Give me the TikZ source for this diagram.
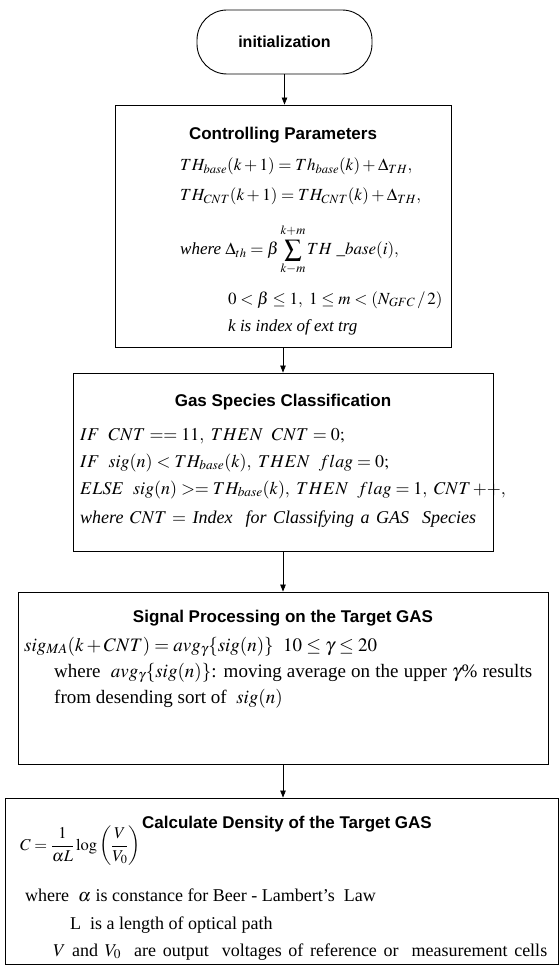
\documentclass[tikz,border=0pt]{standalone}
\usepackage{mathptmx}
\usepackage[no-math]{fontspec}
\setmainfont{Liberation Serif}
\newfontfamily\titlefont{Liberation Sans}
\usetikzlibrary{arrows.meta}
\begin{document}
\begin{tikzpicture}[x=1pt,y=-1pt,
  box/.style={draw, line width=0.9pt, inner sep=0pt},
  arr/.style={draw, line width=0.7pt, -{Triangle[length=7pt,width=5.5pt]}},
  ttl/.style={anchor=base, inner sep=0pt, font=\titlefont\bfseries\fontsize{17}{20}\selectfont},
  txt/.style={anchor=base west, inner sep=0pt, font=\fontsize{18}{22}\selectfont},
  ctxt/.style={txt, font=\fontsize{17}{21}\selectfont},
  stxt/.style={txt, font=\fontsize{19}{23}\selectfont},
]
\useasboundingbox (0,0) rectangle (559,973);

% boxes
\node[box, rounded corners=30pt, minimum width=175pt, minimum height=64pt] (init) at (284.5,42) {};
\node[ttl, anchor=center, font=\titlefont\bfseries\fontsize{16}{19}\selectfont] (initT) at (284.5,42) {initialization};

\node[box, minimum width=336pt, minimum height=242pt] (ctrl) at (283,226) {};
\node[box, minimum width=420pt, minimum height=178pt] (gas) at (283,462) {};
\node[box, minimum width=530pt, minimum height=172pt] (sig) at (283,678) {};
\node[box, minimum width=553pt, minimum height=166pt] (calc) at (281.5,881) {};

% connectors
\draw[arr] (init.south) -- (init.south |- ctrl.north);
\draw[arr] (ctrl.south) -- (gas.north);
\draw[arr] (gas.south) -- (sig.north);
\draw[arr] (sig.south) -- (sig.south |- calc.north);

% Controlling Parameters
\node[ttl] (cT) at (283,140) {Controlling Parameters};
\node[ctxt] (c1) at (180,171) {$TH_{base}(k+1) = Th_{base}(k) + \Delta_{TH},$};
\node[ctxt] (c2) at (180,201) {$TH_{CNT}(k+1) = TH_{CNT}(k) + \Delta_{TH},$};
\node[ctxt] (c3) at (180,255) {\textit{where} $\displaystyle \Delta_{th} = \beta\mathop{\vphantom{\sum}\smash{\sum}}_{k-m}^{\raisebox{2pt}{$\scriptstyle k+m$}} TH\ \_base(i),$};
\node[ctxt] (c4) at (228,304) {$0 < \beta \le 1,\ 1 \le m < (N_{GFC}\,/\,2)$};
\node[ctxt] (c5) at (228,331) {\textit{k is index of ext trg}};

% Gas Species Classification
\node[ttl] (gT) at (283,406) {Gas Species Classification};
\node[txt] (g1) at (80,440) {$IF\ \ CNT == 11,\ THEN\ \ CNT = 0;$};
\node[txt] (g2) at (80,467) {$IF\ \ sig(n) < TH_{base}(k),\ THEN\ \ flag = 0;$};
\node[txt] (g3) at (80,494) {$ELSE\ \ sig(n) >= TH_{base}(k),\ THEN\ \ flag = 1,\ CNT\,{+}{+},$};
\node[txt] (g4) at (80,523) {\hbox to 396pt{\textit{where} $CNT =$ \textit{Index\ \ for Classifying\ a GAS\ \ Species}}};

% Signal Processing
\node[ttl] (sT) at (283,622) {Signal Processing on the Target GAS};
\node[stxt] (s1) at (24,651) {$sig_{MA}(k + CNT) = avg_{\gamma}\{sig(n)\}\ \ 10 \le \gamma \le 20$};
\node[stxt] (s2) at (54,677) {\hbox to 478pt{where\ \ $avg_{\gamma}\{sig(n)\}$: moving average on the upper $\gamma$\% results}};
\node[stxt] (s3) at (54,703) {from desending sort of\ \ $sig(n)$};

% Calculate Density
\node[ttl] (dT) at (287,828) {Calculate Density of the Target GAS};
\node[txt, anchor=west, font=\fontsize{16.5}{20}\selectfont] (d1) at (20,846) {$\displaystyle C = \frac{1}{\alpha L}\log\left(\frac{V}{V_0}\right)$};
\node[txt] (d2) at (25,901) {where\ \ $\alpha$ is constance for Beer - Lambert's\ \ Law};
\node[txt] (d3) at (70,929) {L\ \ is a length of optical path};
\node[txt] (d4) at (53,956) {\hbox to 494pt{$V$ and $V_0$\ \ are output\ \ voltages of reference or\ \ measurement cells}};
\end{tikzpicture}
\end{document}
